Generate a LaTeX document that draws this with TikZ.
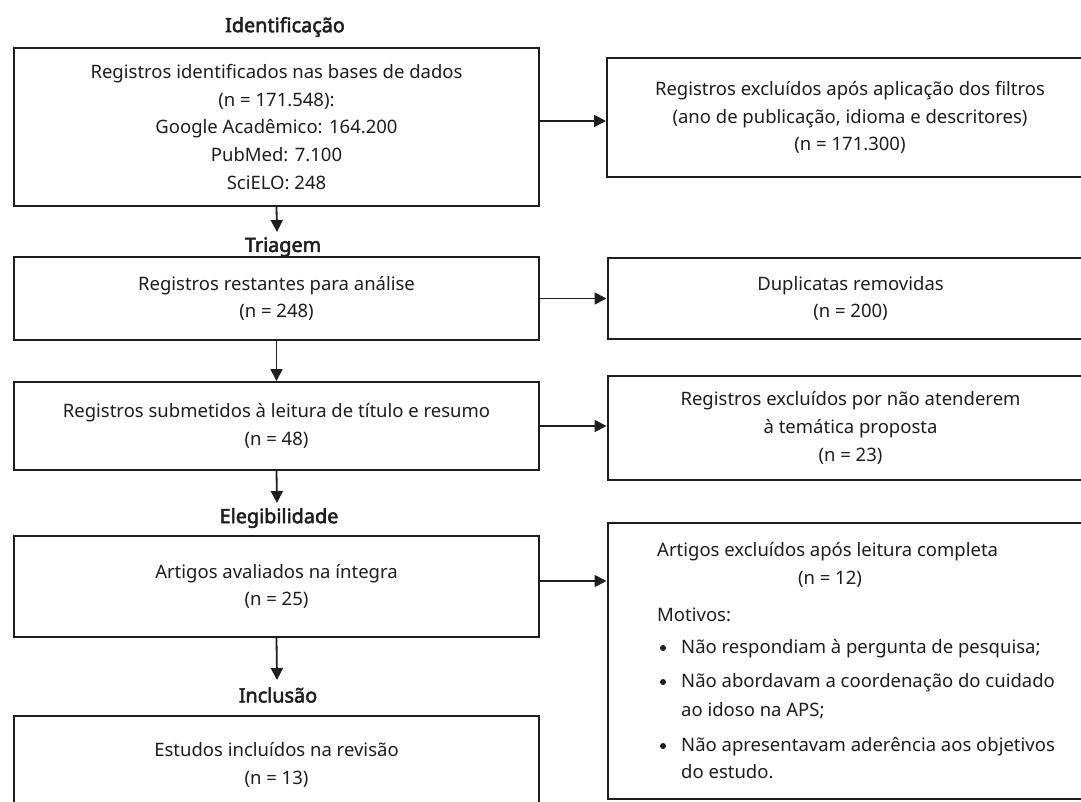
\documentclass[tikz,border=0pt]{standalone}
\usepackage{fontspec}
\setmainfont{Noto Sans}
\newfontfamily\headfont{Noto Sans}[FakeBold=2.6]
\usetikzlibrary{arrows.meta}
\definecolor{ink}{HTML}{1E1E1E}
\begin{document}
\begin{tikzpicture}[x=1pt,y=-1pt,
  box/.style={draw=ink,line width=2pt,fill=white,minimum width=525pt,align=center,inner sep=0pt,
     font=\fontsize{18.5}{27.7}\selectfont,text=ink},
  rbox/.style={box,minimum width=486pt},
  head/.style={font=\fontsize{19.8}{22}\headfont,text=ink,inner sep=0pt},
  txt/.style={font=\fontsize{18.5}{22}\selectfont,text=ink,inner sep=0pt,text height=13pt,text depth=4pt},
  dot/.style={circle,fill=ink,inner sep=0pt,minimum size=6pt},
  arr/.style={draw=ink,line width=1.8pt,-{Triangle[length=12pt,width=12pt]}}]
\useasboundingbox (0,0) rectangle (1081,802);
\clip (0,0) rectangle (1081,802);
\fill[white] (0,0) rectangle (1081,802);

\node[head] (h1) at (285,27) {Identificação};
\node[head] (h2) at (283,247) {Triagem};
\node[head] (h3) at (279,518) {Elegibilidade};
\node[head] (h4) at (278,695) {Inclusão};

\node[box,minimum height=158pt] (b1) at (276.5,127) {Registros identificados nas bases de dados\\(n = 171.548):\\Google Acadêmico: 164.200\\PubMed: 7.100\\SciELO: 248};
\node[rbox,minimum height=119pt] (r1) at (850,117.5) {Registros excluídos após aplicação dos filtros\\(ano de publicação, idioma e descritores)\\(n = 171.300)};

\node[box,minimum height=83pt] (b2) at (276.5,298.5) {Registros restantes para análise\\(n = 248)};
\node[rbox,minimum height=81pt] (r2) at (850.5,298.5) {Duplicatas removidas\\(n = 200)};

\node[box,minimum height=88pt] (b3) at (276.5,426) {Registros submetidos à leitura de título e resumo\\(n = 48)};
\node[rbox,minimum height=104pt] (r3) at (850.5,428) {Registros excluídos por não atenderem\\à temática proposta\\(n = 23)};

\node[box,minimum height=101pt] (b4) at (276.5,586.5) {Artigos avaliados na íntegra\\(n = 25)};
\node[rbox,minimum height=276pt] (r4) at (850.5,661) {};

\node[box,minimum height=98pt] (b5) at (276.5,765) {Estudos incluídos na revisão\\(n = 13)};

\node[txt,anchor=west] (t1) at (657,552) {Artigos excluídos após leitura completa};
\node[txt] (t2) at (830,580) {(n = 12)};
\node[txt,anchor=west] (t3) at (657,617) {Motivos:};
\node[dot] (d1) at (663,648) {};
\node[txt,anchor=west] (m1) at (681,649) {Não respondiam à pergunta de pesquisa;};
\node[dot] (d2) at (663,682) {};
\node[txt,anchor=west] (m2) at (681,683) {Não abordavam a coordenação do cuidado};
\node[txt,anchor=west] (m2b) at (681,712) {ao idoso na APS;};
\node[dot] (d3) at (663,746) {};
\node[txt,anchor=west] (m3) at (681,747) {Não apresentavam aderência aos objetivos};
\node[txt,anchor=west] (m3b) at (681,774) {do estudo.};

\coordinate (c1) at (277,232);
\coordinate (c3) at (277,503);
\coordinate (c4) at (277,680);

\draw[arr] (b1.south) -- (c1);
\draw[arr] (b2.south) -- (b3.north);
\draw[arr] (b3.south) -- (c3);
\draw[arr] (b4.south) -- (c4);

\draw[arr] (b1.east |- 0,121) -- (r1.west |- 0,121);
\draw[arr] (b2.east) -- (b2.east -| r2.west);
\draw[arr] (b3.east) -- (b3.east -| r3.west);
\draw[arr] (b4.east |- 0,581) -- (r4.west |- 0,581);
\end{tikzpicture}
\end{document}
